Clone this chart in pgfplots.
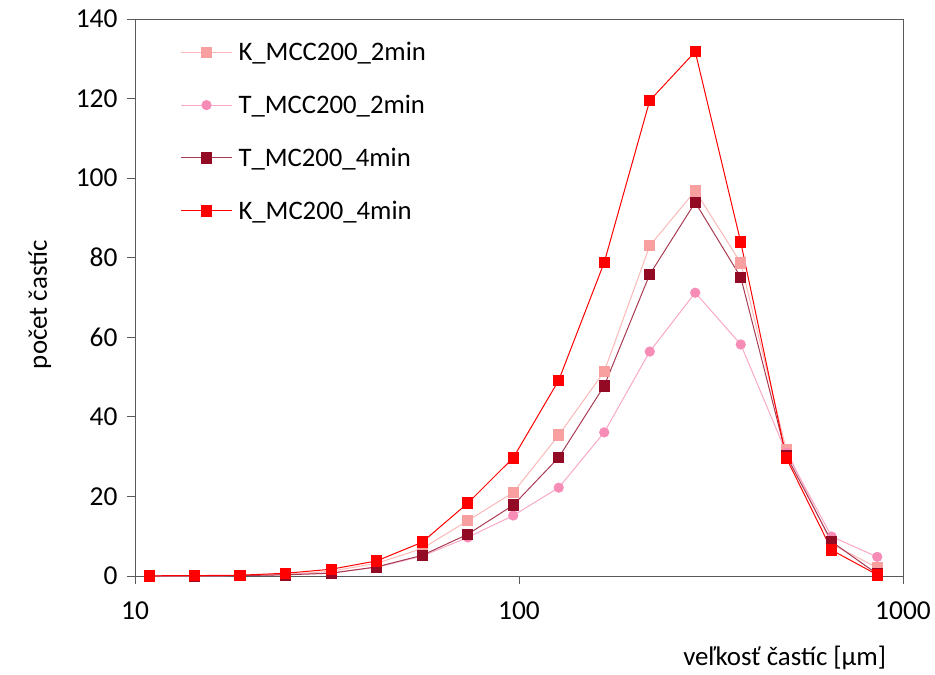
\documentclass[border=0pt]{standalone}
\usepackage{pgfplots}
\pgfplotsset{compat=1.18}
\usepackage{fontspec}
\setmainfont{Carlito}
\definecolor{cK2}{HTML}{F8A0A0}
\definecolor{cK2l}{HTML}{FBB8B8}
\definecolor{cT2}{HTML}{F78DB6}
\definecolor{cT2l}{HTML}{F9A8C8}
\definecolor{cT4}{HTML}{930A24}
\definecolor{cT4l}{HTML}{A83A52}
\definecolor{cK4}{HTML}{FF0000}
\definecolor{axc}{HTML}{595959}
\begin{document}
\begin{tikzpicture}
\begin{axis}[
  scale only axis,
  width=768bp, height=557bp,
  xmode=log, log basis x=10,
  xmin=10, xmax=1000, ymin=0, ymax=140,
  xtick={10,100,1000}, xticklabels={10,100,1000},
  ytick={0,20,...,140},
  xtick pos=bottom, ytick pos=left,
  tick align=outside,
  major tick length=8bp, minor tick length=6bp,
  every tick/.style={axc, line width=0.8pt},
  axis line style={axc, line width=0.9pt},
  font=\fontsize{27}{32}\selectfont,
  tick label style={font=\fontsize{27.5}{32}\selectfont},
  /pgf/number format/assume math mode=true,
  xticklabel style={yshift=-14bp},
  yticklabel style={xshift=-6bp},
  ylabel={počet častíc},
  ylabel style={at={(axis description cs:-0.124,0.487)}, anchor=center},
  xlabel={veľkosť častíc [μm]},
  xlabel style={at={(axis description cs:0.846,0)}, anchor=center, yshift=-82bp},
  legend style={draw=none, fill=none, at={(axis description cs:0.059,0.962)}, anchor=north west,
    font=\fontsize{26.8}{32}\selectfont, row sep=29bp, inner sep=0pt,
    /tikz/every even column/.append style={column sep=10bp}},
  legend cell align=left,
  legend image code/.code={\draw[mark repeat=2,mark phase=2,#1] plot coordinates {(0bp,0bp) (25.5bp,0bp) (51bp,0bp)};\path (55bp,0bp);},
]
\coordinate (o) at (rel axis cs:0,0);
\addplot[cK2l, line width=1pt, mark=square*, mark size=5.2bp, mark options={cK2, draw=cK2}] coordinates {
(10.89,0) (14.30,0.05) (18.79,0.15) (24.70,0.4) (32.43,1.2) (42.62,3.2) (55.98,6.9) (73.55,13.9) (96.6,21.0) (126.9,35.4) (166.7,51.4) (219.0,83.0) (287.7,96.8) (378.0,78.7) (496.6,31.7) (652.3,8.0) (857.0,2.1)};
\addlegendentry{K\_MCC200\_2min}
\addplot[cT2l, line width=1pt, mark=*, mark size=4.6bp, mark options={cT2, draw=cT2}] coordinates {
(10.89,0) (14.30,0) (18.79,0.1) (24.70,0.3) (32.43,0.8) (42.62,2.2) (55.98,5.0) (73.55,9.7) (96.6,15.2) (126.9,22.2) (166.7,36.1) (219.0,56.4) (287.7,71.2) (378.0,58.2) (496.6,31.0) (652.3,9.9) (857.0,4.8)};
\addlegendentry{T\_MCC200\_2min}
\addplot[cT4l, line width=1pt, mark=square*, mark size=5.2bp, mark options={cT4, draw=cT4}] coordinates {
(10.89,0) (14.30,0) (18.79,0.1) (24.70,0.3) (32.43,0.7) (42.62,2.3) (55.98,5.2) (73.55,10.5) (96.6,17.8) (126.9,29.8) (166.7,47.8) (219.0,75.8) (287.7,93.9) (378.0,75.1) (496.6,30.3) (652.3,8.6) (857.0,0.5)};
\addlegendentry{T\_MC200\_4min}
\addplot[cK4, line width=1pt, mark=square*, mark size=5.2bp, mark options={cK4, draw=cK4}] coordinates {
(10.89,0.05) (14.30,0.1) (18.79,0.2) (24.70,0.7) (32.43,1.7) (42.62,3.8) (55.98,8.5) (73.55,18.3) (96.6,29.7) (126.9,49.2) (166.7,78.8) (219.0,119.5) (287.7,131.8) (378.0,83.9) (496.6,29.7) (652.3,6.5) (857.0,0.3)};
\addlegendentry{K\_MC200\_4min}
\end{axis}
\pgfresetboundingbox
\path (o) ++(-135bp,-99bp) rectangle ++(935bp,675bp);
\end{tikzpicture}
\end{document}
